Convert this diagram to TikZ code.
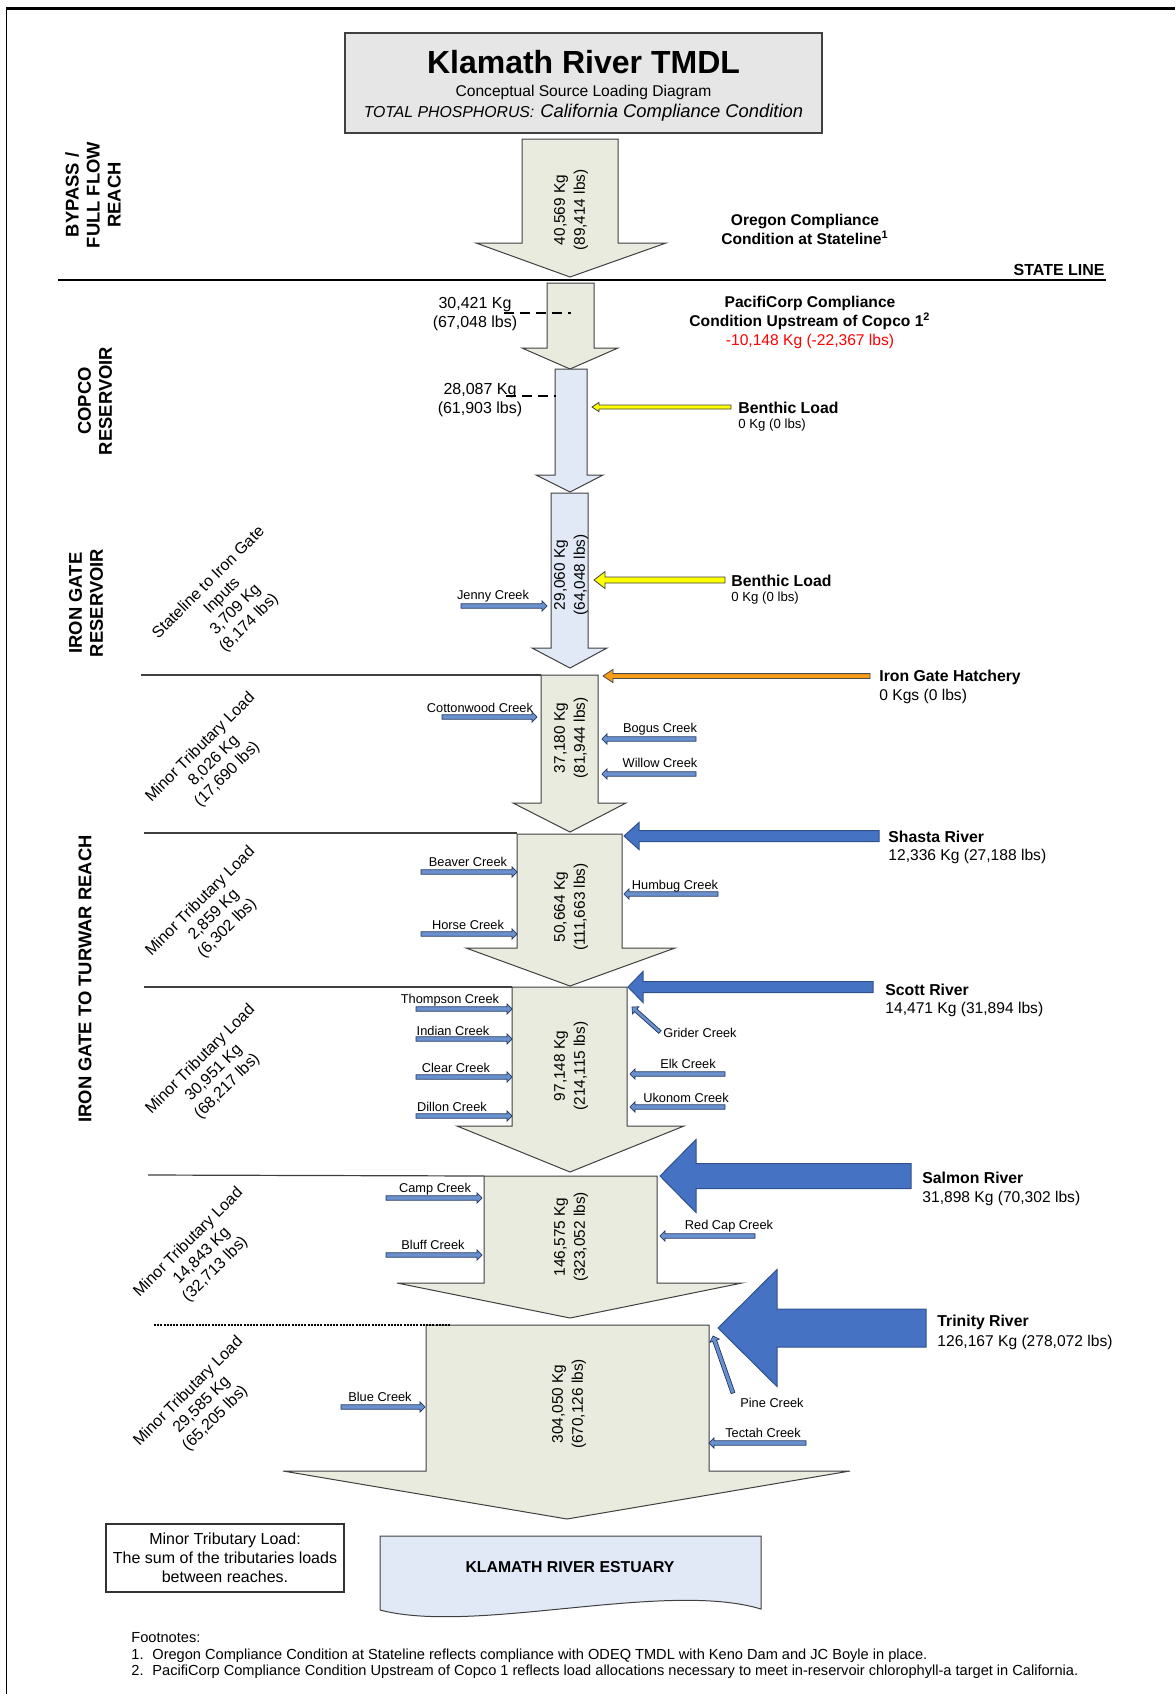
\documentclass[tikz,border=0pt]{standalone}
\usepackage{fontspec}
\setmainfont{Liberation Sans}
\usetikzlibrary{calc}
\definecolor{khaki}{RGB}{232,235,221}
\definecolor{paleblue}{RGB}{226,233,246}
\definecolor{titlegray}{RGB}{230,230,230}
\definecolor{edgegray}{RGB}{64,64,64}
\definecolor{riverblue}{RGB}{70,114,196}
\definecolor{riveredge}{RGB}{47,82,143}
\definecolor{tribfill}{RGB}{105,145,205}
\definecolor{tribedge}{RGB}{35,55,100}
\definecolor{benthicyellow}{RGB}{255,255,0}
\definecolor{hatchorange}{RGB}{247,158,25}
\newcommand{\fs}[2]{\fontsize{#1}{#2}\selectfont}
% block arrow: style, tail, tip, shaft half width, head half width, head length
\newcommand{\blockarrow}[6]{%
  \coordinate (hbq) at ($#3!#6!#2$);
  \draw[#1] ($#2!#4!90:#3$) -- ($(hbq)!#4!90:#3$) -- ($(hbq)!#5!90:#3$) -- #3 -- ($(hbq)!#5!-90:#3$) -- ($(hbq)!#4!-90:#3$) -- ($#2!#4!-90:#3$) -- cycle;}
% downward flow arrow: style, shaft left, shaft right, top, head start, head left, head right, tip x, tip y
\newcommand{\flowdown}[9]{%
  \draw[#1] (#2,#4) -- (#3,#4) -- (#3,#5) -- (#7,#5) -- (#8,#9) -- (#6,#5) -- (#2,#5) -- cycle;}
\tikzset{
  flow/.style={fill=khaki, draw=edgegray, line width=0.5pt},
  flowblue/.style={fill=paleblue, draw=edgegray, line width=0.5pt},
  river/.style={fill=riverblue, draw=riveredge, line width=0.5pt},
  trib/.style={fill=tribfill, draw=tribedge, line width=0.35pt},
  benthic/.style={fill=benthicyellow, draw=black!75, line width=0.4pt},
  hatch/.style={fill=hatchorange, draw=black!70, line width=0.4pt},
  trlabel/.style={font=\fs{6.4}{7.5}, inner sep=0pt},
  val/.style={font=\fs{7.7}{10}, rotate=90, align=center, inner sep=0pt},
  sect/.style={font=\bfseries\fs{9.2}{10.5}, rotate=90, align=center, inner sep=0pt},
  diag/.style={font=\fs{8}{9.5}, rotate=45, align=center, inner sep=0pt},
  bname/.style={font=\bfseries\fs{7.9}{9.5}, anchor=west, inner sep=0pt},
  bval/.style={font=\fs{7.8}{9.5}, anchor=west, inner sep=0pt},
  sval/.style={font=\fs{6.6}{8}, anchor=west, inner sep=0pt},
  loadtxt/.style={font=\fs{8}{9.5}, align=center, inner sep=0pt},
  reachline/.style={draw=black!75, line width=0.6pt},
  damline/.style={line width=1pt, dash pattern=on 5pt off 3pt},
  foot/.style={font=\fs{7.3}{9}, anchor=west, inner sep=0pt}
}
\begin{document}
\begin{tikzpicture}[x=0.5pt,y=-0.5pt]
\useasboundingbox (0,0) rectangle (1175,1694);
% frame
\draw[line width=1.5pt] (6,8.5) -- (1175,8.5);
\draw[line width=0.8pt] (6.5,8) -- (6.5,1694);
% title box
\node[draw=edgegray, fill=titlegray, line width=0.6pt, minimum width=238.5pt, minimum height=50pt, inner sep=0pt] (title) at (583.5,83) {};
\node[font=\bfseries\fs{16}{18}, anchor=base, inner sep=0pt] (ttl) at (583.5,73) {Klamath River TMDL};
\node[font=\fs{7.8}{9}, anchor=base, inner sep=0pt] (sub) at (583.5,96) {Conceptual Source Loading Diagram};
\node[anchor=base, inner sep=0pt] (cond) at (583.5,117) {\itshape\fs{7.9}{9}TOTAL PHOSPHORUS:\hspace{3pt}\fs{9.2}{10}California Compliance Condition};
% section labels
\node[sect] (bypass) at (93,195) {BYPASS /\\FULL FLOW\\REACH};
\node[sect] (copco) at (95,401) {COPCO\\RESERVOIR};
\node[sect] (igres) at (86,603) {IRON GATE\\RESERVOIR};
\node[sect] (igturwar) at (85,979) {IRON GATE TO TURWAR REACH};
% main flow arrows
\flowdown{flow}{522}{618}{139}{243}{476}{666}{570}{277}
\flowdown{flow}{547}{594}{283}{348}{522}{618}{570}{369}
\flowdown{flowblue}{555}{587}{369}{475}{536}{603}{570}{492}
\flowdown{flowblue}{551}{588}{493}{648}{532}{607}{570}{668}
\flowdown{flow}{541}{598}{675}{803}{513}{626}{570}{832}
\flowdown{flow}{517}{622}{834}{948}{466}{675}{570}{986}
\flowdown{flow}{512}{627}{987}{1126}{457}{684}{570}{1172}
\flowdown{flow}{484}{657}{1176}{1283}{397}{742}{570}{1318}
\flowdown{flow}{426}{709}{1325}{1471}{283}{850}{567}{1519}
% state line and reach lines
\draw[line width=0.9pt] (58,280) -- (1106,280);
\node[font=\bfseries\fs{8}{9}, anchor=east, inner sep=0pt] (stl) at (1105,270) {STATE LINE};
\draw[reachline] (141,675) -- (541,675);
\draw[reachline] (144,833) -- (517,833);
\draw[reachline] (144,987) -- (512,987);
\draw[reachline] (148,1175) -- (484,1176);
\draw[line width=0.6pt, dash pattern=on 1pt off 0.6pt] (154,1325) -- (450,1325);
% values in arrows
\node[val] (v1) at (571,210) {40,569 Kg\\(89,414 lbs)};
\node[val] (v4) at (571,575) {29,060 Kg\\(64,048 lbs)};
\node[val] (v5) at (571,738) {37,180 Kg\\(81,944 lbs)};
\node[val] (v6) at (571,907) {50,664 Kg\\(111,663 lbs)};
\node[val] (v7) at (571,1066) {97,148 Kg\\(214,115 lbs)};
\node[val] (v8) at (571,1237) {146,575 Kg\\(323,052 lbs)};
\node[val] (v9) at (569,1404) {304,050 Kg\\(670,126 lbs)};
% compliance texts
\node[font=\bfseries\fs{7.8}{9.5}, align=center, inner sep=0pt] (oregon) at (805,229) {Oregon Compliance\\Condition at Stateline\textsuperscript{1}};
\node[font=\bfseries\fs{7.8}{9.5}, align=center, inner sep=0pt] (pacifi) at (810,322) {PacifiCorp Compliance\\Condition Upstream of Copco 1\textsuperscript{2}\\\textcolor{red}{\mdseries -10,148 Kg (-22,367 lbs)}};
% dam lines and loads
\draw[damline] (504,313) -- (571,313);
\draw[damline] (506,396) -- (556,396);
\node[loadtxt] (load1) at (475,314) {30,421 Kg\\(67,048 lbs)};
\node[loadtxt] (load2) at (480,400) {28,087 Kg\\(61,903 lbs)};
% benthic loads
\blockarrow{benthic}{(731,407)}{(592,407)}{1pt}{2.3pt}{3.5pt}
\node[bname] (ben1) at (738,408) {Benthic Load};
\node[sval] (ben1v) at (738,425) {0 Kg (0 lbs)};
\blockarrow{benthic}{(725,580)}{(594,580)}{1.5pt}{4.25pt}{5.5pt}
\node[bname] (ben2) at (731,581) {Benthic Load};
\node[sval] (ben2v) at (731,598) {0 Kg (0 lbs)};
% hatchery
\blockarrow{hatch}{(870,676)}{(603,676)}{1.2pt}{3.3pt}{5pt}
\node[bname] (hatch) at (879,677) {Iron Gate Hatchery};
\node[bval] (hatchv) at (879,696) {0 Kgs (0 lbs)};
% rivers
\blockarrow{river}{(879,836)}{(624,836)}{2.75pt}{6.75pt}{7.5pt}
\node[bname] (shasta) at (888,837) {Shasta River};
\node[bval] (shastav) at (888,856) {12,336 Kg (27,188 lbs)};
\blockarrow{river}{(873,987)}{(628,987)}{2.75pt}{7.75pt}{7.5pt}
\node[bname] (scott) at (885,990) {Scott River};
\node[bval] (scottv) at (885,1009) {14,471 Kg (31,894 lbs)};
\blockarrow{river}{(911,1176)}{(660,1176)}{6.25pt}{18.25pt}{18pt}
\node[bname] (salmon) at (922,1178) {Salmon River};
\node[bval] (salmonv) at (922,1198) {31,898 Kg (70,302 lbs)};
\blockarrow{river}{(926,1328)}{(718,1328)}{9.5pt}{29.25pt}{29.5pt}
\node[bname] (trinity) at (937,1322) {Trinity River};
\node[bval] (trinityv) at (937,1342) {126,167 Kg (278,072 lbs)};
% tributaries
\blockarrow{trib}{(461,606)}{(547,606)}{1.1pt}{2.6pt}{2.5pt}
\node[trlabel] (jenny) at (493,596) {Jenny Creek};
\blockarrow{trib}{(442,717)}{(537,717)}{1.1pt}{2.6pt}{2.5pt}
\node[trlabel] (cotton) at (480,708) {Cottonwood Creek};
\blockarrow{trib}{(696,739)}{(602,739)}{1.1pt}{2.6pt}{2.5pt}
\node[trlabel] (bogus) at (660,729) {Bogus Creek};
\blockarrow{trib}{(696,774)}{(602,774)}{1.1pt}{2.6pt}{2.5pt}
\node[trlabel] (willow) at (660,763) {Willow Creek};
\blockarrow{trib}{(421,872)}{(517,872)}{1.1pt}{2.6pt}{2.5pt}
\node[trlabel] (beaver) at (468,862) {Beaver Creek};
\blockarrow{trib}{(421,934)}{(517,934)}{1.1pt}{2.6pt}{2.5pt}
\node[trlabel] (horse) at (468,925) {Horse Creek};
\blockarrow{trib}{(718,894)}{(624,894)}{1.1pt}{2.6pt}{2.5pt}
\node[trlabel] (humbug) at (675,886) {Humbug Creek};
\blockarrow{trib}{(416,1009)}{(512,1009)}{1.1pt}{2.6pt}{2.5pt}
\node[trlabel] (thompson) at (450,1000) {Thompson Creek};
\blockarrow{trib}{(416,1039)}{(512,1039)}{1.1pt}{2.6pt}{2.5pt}
\node[trlabel] (indian) at (453,1031) {Indian Creek};
\blockarrow{trib}{(416,1077)}{(512,1077)}{1.1pt}{2.6pt}{2.5pt}
\node[trlabel] (clear) at (456,1068) {Clear Creek};
\blockarrow{trib}{(416,1116)}{(512,1116)}{1.1pt}{2.6pt}{2.5pt}
\node[trlabel] (dillon) at (452,1107) {Dillon Creek};
\blockarrow{trib}{(660,1032)}{(632,1007)}{0.9pt}{2.4pt}{2.5pt}
\node[trlabel, anchor=west] (grider) at (663,1033) {Grider Creek};
\blockarrow{trib}{(725,1074)}{(630,1074)}{1.1pt}{2.6pt}{2.5pt}
\node[trlabel] (elk) at (688,1064) {Elk Creek};
\blockarrow{trib}{(725,1107)}{(630,1107)}{1.1pt}{2.6pt}{2.5pt}
\node[trlabel] (ukonom) at (686,1098) {Ukonom Creek};
\blockarrow{trib}{(386,1198)}{(482,1198)}{1.1pt}{2.6pt}{2.5pt}
\node[trlabel] (camp) at (435,1189) {Camp Creek};
\blockarrow{trib}{(386,1255)}{(482,1255)}{1.1pt}{2.6pt}{2.5pt}
\node[trlabel] (bluff) at (433,1245) {Bluff Creek};
\blockarrow{trib}{(755,1236)}{(660,1236)}{1.1pt}{2.6pt}{2.5pt}
\node[trlabel] (redcap) at (729,1226) {Red Cap Creek};
\blockarrow{trib}{(341,1407)}{(425,1407)}{1.1pt}{2.6pt}{2.5pt}
\node[trlabel] (blue) at (380,1397) {Blue Creek};
\blockarrow{trib}{(733,1393)}{(713,1336)}{1pt}{2.5pt}{2.5pt}
\node[trlabel] (pine) at (772,1403) {Pine Creek};
\blockarrow{trib}{(806,1443)}{(709,1443)}{1.1pt}{2.6pt}{2.5pt}
\node[trlabel] (tectah) at (763,1433) {Tectah Creek};
% diagonal load labels
\node[diag] (sl) at (229,603) {Stateline to Iron Gate\\Inputs\\3,709 Kg\\(8,174 lbs)};
\node[diag] (m1) at (214,761) {Minor Tributary Load\\8,026 Kg\\(17,690 lbs)};
\node[diag] (m2) at (214,915) {Minor Tributary Load\\2,859 Kg\\(6,302 lbs)};
\node[diag] (m3) at (214,1073) {Minor Tributary Load\\30,951 Kg\\(68,217 lbs)};
\node[diag] (m4) at (202,1256) {Minor Tributary Load\\14,843 Kg\\(32,713 lbs)};
\node[diag] (m5) at (202,1405) {Minor Tributary Load\\29,585 Kg\\(65,205 lbs)};
% legend
\node[draw=black!80, line width=0.7pt, minimum width=119pt, minimum height=34pt, align=center, font=\fs{8}{9.5}, inner sep=0pt] (legend) at (225,1558) {Minor Tributary Load:\\The sum of the tributaries loads\\between reaches.};
% estuary
\draw[fill=paleblue, draw=edgegray, line width=0.5pt] (380,1536) -- (761,1536) -- (761,1609) .. controls (665,1580) and (475,1635) .. (380,1610) -- cycle;
\node[font=\bfseries\fs{7.9}{9}, inner sep=0pt] (estuary) at (570,1567) {KLAMATH RIVER ESTUARY};
% footnotes
\node[foot] (fn) at (131,1638) {Footnotes:};
\node[foot] (fn1) at (131,1656) {\makebox[10.5pt][l]{1.}Oregon Compliance Condition at Stateline reflects compliance with ODEQ TMDL with Keno Dam and JC Boyle in place.};
\node[foot] (fn2) at (131,1672) {\makebox[10.5pt][l]{2.}PacifiCorp Compliance Condition Upstream of Copco 1 reflects load allocations necessary to meet in-reservoir chlorophyll-a target in California.};
\end{tikzpicture}
\end{document}
